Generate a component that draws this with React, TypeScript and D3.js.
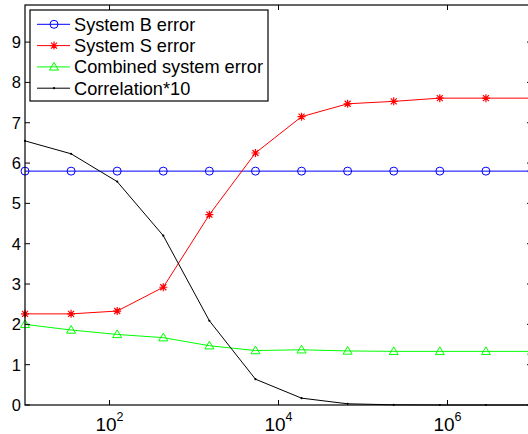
import * as d3 from "d3";
import { useEffect, useRef } from "react";

// x values (log-spaced sample sizes)
const xValues = [10, 35.1, 123.3, 432.9, 1520, 5337, 18738, 65793, 231013, 811131, 2848036, 10000000];

const systemB = [5.8, 5.8, 5.8, 5.8, 5.8, 5.8, 5.8, 5.8, 5.8, 5.8, 5.8, 5.8];
const systemS = [2.26, 2.26, 2.33, 2.92, 4.72, 6.25, 7.15, 7.47, 7.53, 7.61, 7.61, 7.61];
const combined = [2.0, 1.86, 1.75, 1.67, 1.47, 1.35, 1.37, 1.34, 1.33, 1.33, 1.33, 1.33];
const correlation = [6.55, 6.23, 5.54, 4.2, 2.09, 0.64, 0.17, 0.03, 0.005, 0, 0, 0];

const seriesNames = ["System B error", "System S error", "Combined system error", "Correlation*10"];
const yTicks = [0, 1, 2, 3, 4, 5, 6, 7, 8, 9];
const xTickExps = [2, 4, 6];

type Marker = "circle" | "star" | "triangle" | "dot";

export default function App() {
  const svgRef = useRef<SVGSVGElement>(null);
  const width = 528;
  const height = 434;

  useEffect(() => {
    if (!svgRef.current) return;
    const svg = d3.select(svgRef.current);
    svg.selectAll("*").remove();

    const left = 25;
    const right = 532;
    const top = 5;
    const bottom = 405;

    const x = d3.scaleLog().domain([10, 1e7]).range([left, right]);
    const y = d3.scaleLinear().domain([0, 9.92]).range([bottom, top]);

    const font = "Liberation Sans, Arial, Helvetica, sans-serif";

    const series: { values: number[]; color: string; marker: Marker }[] = [
      { values: systemB, color: "#0000ff", marker: "circle" },
      { values: systemS, color: "#ff0000", marker: "star" },
      { values: combined, color: "#00ff00", marker: "triangle" },
      { values: correlation, color: "#000000", marker: "dot" },
    ];

    const drawMarker = (g: d3.Selection<SVGGElement, unknown, null, undefined>, m: Marker, cx: number, cy: number, color: string) => {
      if (m === "circle") {
        g.append("circle").attr("cx", cx).attr("cy", cy).attr("r", 4)
          .attr("fill", "none").attr("stroke", color).attr("stroke-width", 1);
      } else if (m === "star") {
        const r = 4, d = 3;
        g.append("path")
          .attr("d", `M${cx - r},${cy}L${cx + r},${cy}M${cx},${cy - r}L${cx},${cy + r}M${cx - d},${cy - d}L${cx + d},${cy + d}M${cx - d},${cy + d}L${cx + d},${cy - d}`)
          .attr("stroke", color).attr("stroke-width", 1.2).attr("fill", "none");
      } else if (m === "triangle") {
        g.append("path")
          .attr("d", `M${cx},${cy - 4.5}L${cx + 4.5},${cy + 3.2}L${cx - 4.5},${cy + 3.2}Z`)
          .attr("stroke", color).attr("stroke-width", 1).attr("fill", "none");
      } else {
        g.append("circle").attr("cx", cx).attr("cy", cy).attr("r", 1.1).attr("fill", color);
      }
    };

    // Lines
    const line = d3.line<number>()
      .x((_, i) => x(xValues[i]))
      .y((d) => y(d));

    const plot = svg.append("g");
    series.forEach((s) => {
      plot.append("path")
        .attr("d", line(s.values))
        .attr("fill", "none")
        .attr("stroke", s.color)
        .attr("stroke-width", 1);
      s.values.forEach((v, i) => drawMarker(plot, s.marker, x(xValues[i]), y(v), s.color));
    });

    // Axes box
    const axes = svg.append("g").attr("stroke", "#000").attr("stroke-width", 1.2);
    axes.append("rect")
      .attr("x", left).attr("y", top)
      .attr("width", right - left).attr("height", bottom - top)
      .attr("fill", "none");

    const tickLen = 5;
    yTicks.forEach((t) => {
      const ty = y(t);
      axes.append("line").attr("x1", left).attr("x2", left + tickLen).attr("y1", ty).attr("y2", ty).attr("stroke-width", 1);
      axes.append("line").attr("x1", right).attr("x2", right - tickLen).attr("y1", ty).attr("y2", ty).attr("stroke-width", 1);
    });
    xTickExps.forEach((e) => {
      const tx = x(Math.pow(10, e));
      axes.append("line").attr("x1", tx).attr("x2", tx).attr("y1", bottom).attr("y2", bottom - tickLen).attr("stroke-width", 1);
      axes.append("line").attr("x1", tx).attr("x2", tx).attr("y1", top).attr("y2", top + tickLen).attr("stroke-width", 1);
    });

    // Tick labels
    svg.append("g").selectAll("text").data(yTicks).enter().append("text")
      .attr("x", 21)
      .attr("y", (d) => y(d) + 6)
      .attr("text-anchor", "end")
      .style("font-family", font)
      .style("font-size", "16.5px")
      .text((d) => String(d));

    xTickExps.forEach((e) => {
      const t = svg.append("text")
        .attr("x", x(Math.pow(10, e)))
        .attr("y", 431)
        .attr("text-anchor", "middle")
        .style("font-family", font)
        .style("font-size", "19px");
      t.append("tspan").text("10");
      t.append("tspan").attr("dy", -10.5).style("font-size", "12.5px").text(String(e));
    });

    // Legend
    const legend = svg.append("g");
    legend.append("rect")
      .attr("x", 30).attr("y", 10).attr("width", 238).attr("height", 91)
      .attr("fill", "#fff").attr("stroke", "#000").attr("stroke-width", 1.2);
    series.forEach((s, i) => {
      const ly = 24.3 + i * 21.3;
      legend.append("line")
        .attr("x1", 37).attr("x2", 70).attr("y1", ly).attr("y2", ly)
        .attr("stroke", s.color).attr("stroke-width", 1);
      drawMarker(legend, s.marker, 54, ly, s.color);
      legend.append("text")
        .attr("x", 74).attr("y", ly + 6.3)
        .style("font-family", font)
        .style("font-size", "18.2px")
        .text(seriesNames[i]);
    });
  }, []);

  return (
    <svg
      ref={svgRef}
      width={width}
      height={height}
      style={{ position: "absolute", left: 0, top: 0, background: "#fff" }}
    />
  );
}
